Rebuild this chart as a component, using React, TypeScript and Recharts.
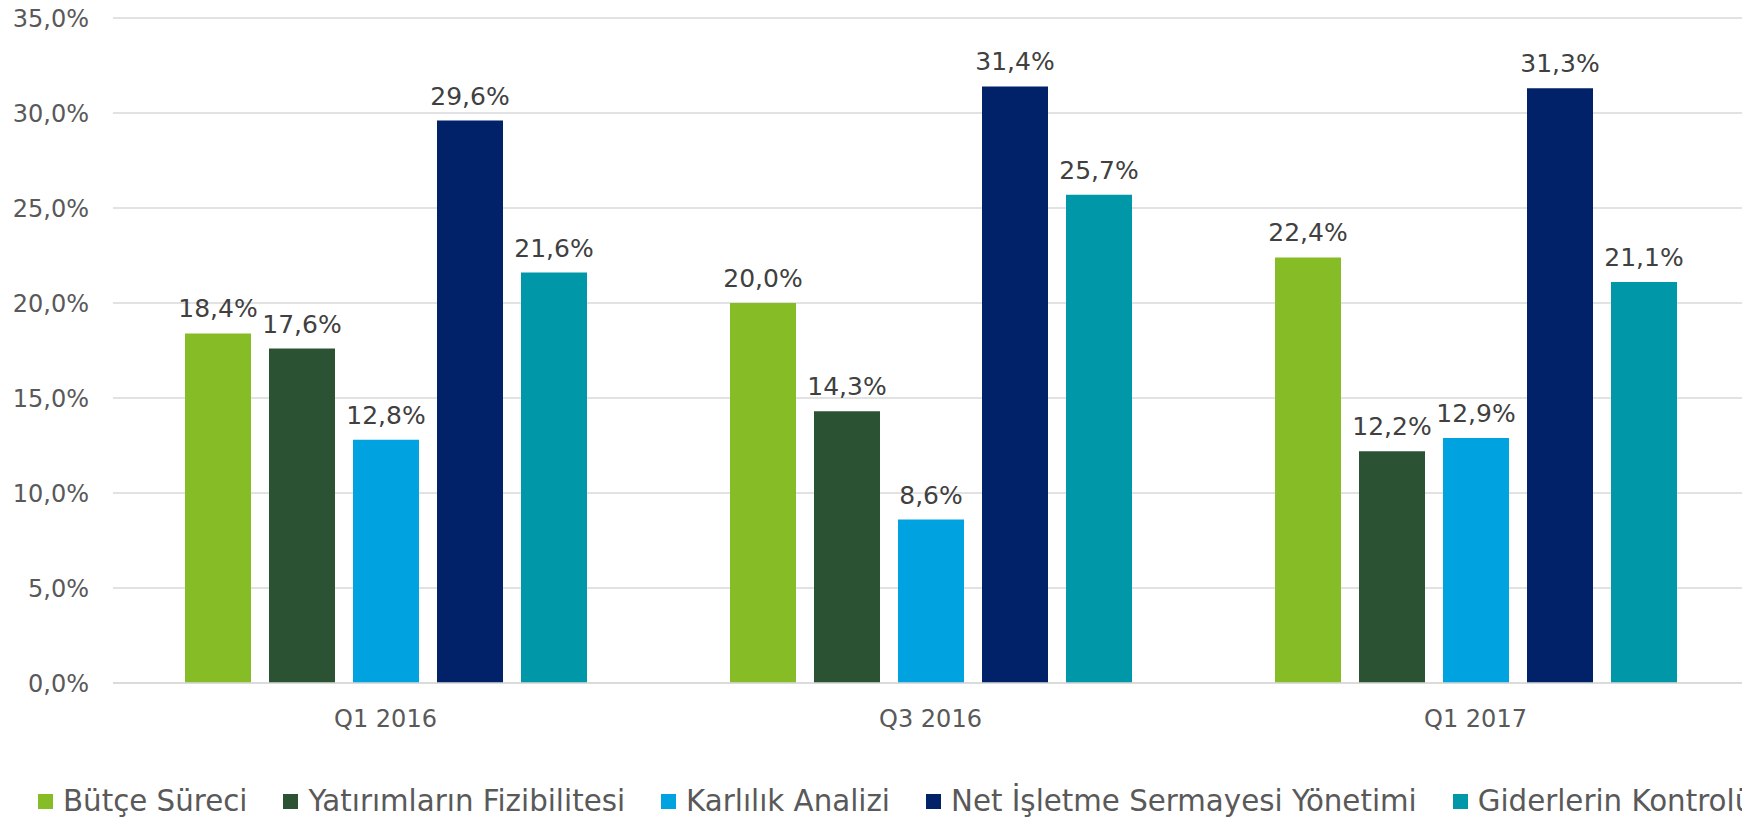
import React from 'react';
import { BarChart, Bar, XAxis, YAxis, CartesianGrid, LabelList } from 'recharts';

const categories = ['Q1 2016', 'Q3 2016', 'Q1 2017'];
const seriesNames = [
  'Bütçe Süreci',
  'Yatırımların Fizibilitesi',
  'Karlılık Analizi',
  'Net İşletme Sermayesi Yönetimi',
  'Giderlerin Kontrolü',
];
const butceSureci = [18.4, 20.0, 22.4];
const yatirimlarinFizibilitesi = [17.6, 14.3, 12.2];
const karlilikAnalizi = [12.8, 8.6, 12.9];
const netIsletme = [29.6, 31.4, 31.3];
const giderlerinKontrolu = [21.6, 25.7, 21.1];
const yTicks = [0, 5, 10, 15, 20, 25, 30, 35];
const colors = ['#86BC25', '#2C5234', '#00A3E0', '#012169', '#0097A9'];

const seriesValues = [butceSureci, yatirimlarinFizibilitesi, karlilikAnalizi, netIsletme, giderlerinKontrolu];
const keys = ['s0', 's1', 's2', 's3', 's4'];

const data = categories.map((c, i) => {
  const row: Record<string, string | number> = { name: c };
  keys.forEach((k, j) => {
    row[k] = seriesValues[j][i];
  });
  return row;
});

const fmt = (v: number) => v.toFixed(1).replace('.', ',') + '%';
const FONT = '"DejaVu Sans", Verdana, sans-serif';

export default function App() {
  return (
    <div style={{ position: 'relative', width: 1742, height: 810, overflow: 'hidden', fontFamily: FONT }}>
      <BarChart
        width={1742}
        height={800}
        data={data}
        margin={{ top: 10, right: 2, bottom: 65, left: 0 }}
        barSize={66}
        barGap={18}
        style={{ overflow: 'visible' }}
      >
        <CartesianGrid vertical={false} stroke="#d9d9d9" strokeWidth={1.3} />
        <XAxis
          dataKey="name"
          axisLine={{ stroke: '#d9d9d9', strokeWidth: 1.3 }}
          tickLine={false}
          tickSize={0}
          tickMargin={27}
          height={60}
          tick={{ fill: '#595959', fontSize: 24, fontFamily: FONT }}
        />
        <YAxis
          width={105}
          domain={[0, 35]}
          ticks={yTicks}
          tickFormatter={fmt}
          axisLine={false}
          tickLine={false}
          tickSize={0}
          tickMargin={24}
          interval={0}
          tick={{ fill: '#595959', fontSize: 24, fontFamily: FONT }}
        />
        {keys.map((k, j) => (
          <Bar key={k} dataKey={k} name={seriesNames[j]} fill={colors[j]} isAnimationActive={false}>
            <LabelList
              dataKey={k}
              position="top"
              offset={16}
              formatter={(v: number) => fmt(v)}
              style={{ fill: '#404040', fontSize: 25, fontFamily: FONT }}
            />
          </Bar>
        ))}
      </BarChart>
      <div
        style={{
          position: 'absolute',
          left: 30,
          top: 778,
          height: 30,
          display: 'flex',
          alignItems: 'center',
          whiteSpace: 'nowrap',
          fontSize: 29.3,
          lineHeight: '30px',
          color: '#595959',
        }}
      >
        {seriesNames.map((n, j) => (
          <div key={n} style={{ display: 'flex', alignItems: 'center', marginRight: 36 }}>
            <span style={{ display: 'inline-block', width: 15, height: 15, background: colors[j], marginRight: 10 }} />
            <span>{n}</span>
          </div>
        ))}
      </div>
    </div>
  );
}
